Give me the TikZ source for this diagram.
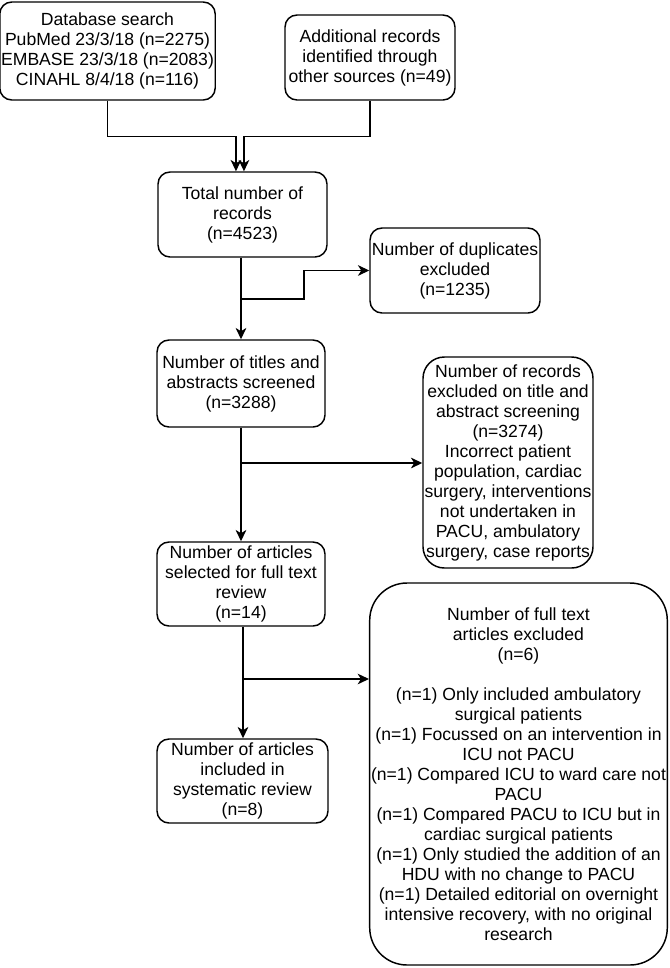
\documentclass[tikz,border=0pt]{standalone}
\usepackage{fontspec}
\setmainfont{Liberation Sans}
\usetikzlibrary{arrows.meta}
\tikzset{
    stage/.style={draw,line width=1.1pt,rounded corners=9pt,align=center,inner sep=1pt,font=\fontsize{13.2}{15}\selectfont},
    arr/.style={line width=1.1pt,-{Stealth[length=8.5pt,width=8pt,inset=2.5pt]}},
}
\begin{document}
\begin{tikzpicture}[x=0.75pt,y=-0.75pt]
                \useasboundingbox (0,0) rectangle (669,968);
                \node[stage,minimum width=211*0.75pt,minimum height=98*0.75pt] (dbs) at (107.5,51) {Database search\\PubMed 23/3/18 (n=2275)\\EMBASE 23/3/18 (n=2083)\\CINAHL 8/4/18 (n=116)};
                \node[stage,minimum width=170*0.75pt,minimum height=85*0.75pt] (other) at (370,57.5) {Additional records\\identified through\\other sources (n=49)};
                \node[stage,minimum width=169*0.75pt,minimum height=85*0.75pt] (total) at (242.5,214.5) {Total number of\\records\\(n=4523)};
                \node[stage,minimum width=170*0.75pt,minimum height=85*0.75pt] (dups) at (455,270.5) {Number of duplicates\\excluded\\(n=1235)};
                \node[stage,minimum width=168*0.75pt,minimum height=87*0.75pt] (screened) at (241,383.5) {Number of titles and\\abstracts screened\\(n=3288)};
                \node[stage,rounded corners=16pt,minimum width=170*0.75pt,minimum height=211*0.75pt] (titleexcl) at (508,462.5) {Number of records\\excluded on title and\\abstract screening\\(n=3274)\\Incorrect patient\\population, cardiac\\surgery, interventions\\not undertaken in\\PACU, ambulatory\\surgery, case reports};
                \node[stage,minimum width=168*0.75pt,minimum height=84*0.75pt] (selected) at (241,584) {Number of articles\\selected for full text\\review\\(n=14)};
                \node[stage,rounded corners=28pt,minimum width=297*0.75pt,minimum height=382*0.75pt] (fullexcl) at (518.5,774) {Number of full text\\articles excluded\\(n=6)\\[15pt](n=1) Only included ambulatory\\surgical patients\\(n=1) Focussed on an intervention in\\ICU not PACU\\(n=1) Compared ICU to ward care not\\PACU\\(n=1) Compared PACU to ICU but in\\cardiac surgical patients\\(n=1) Only studied the addition of an\\HDU with no change to PACU\\(n=1) Detailed editorial on overnight\\intensive recovery, with no original\\research};
                \node[stage,minimum width=171*0.75pt,minimum height=84*0.75pt] (included) at (242.5,781) {Number of articles\\included in\\systematic review\\(n=8)};
                \coordinate (dupjoin) at (241,299);
                \coordinate (scrjoin) at (241,463);
                \coordinate (ftjoin) at (243,679);
                \draw[arr] (dbs.south) -- ++(0,36) -| ([xshift=-4.9pt]total.north);
                \draw[arr] (other.south) -- ++(0,36) -| ([xshift=1.1pt]total.north);
                \draw[arr] (total.south -| screened.north) -- (screened.north);
                \draw[arr] (dupjoin) -- ++(63,0) |- (dups.west);
                \draw[arr] (screened.south) -- (selected.north);
                \draw[arr] (scrjoin) -- (scrjoin -| titleexcl.west);
                \draw[arr] (ftjoin |- selected.south) -- (ftjoin |- included.north);
                \draw[arr] (ftjoin) -- (ftjoin -| fullexcl.west);
            \end{tikzpicture}
\end{document}
